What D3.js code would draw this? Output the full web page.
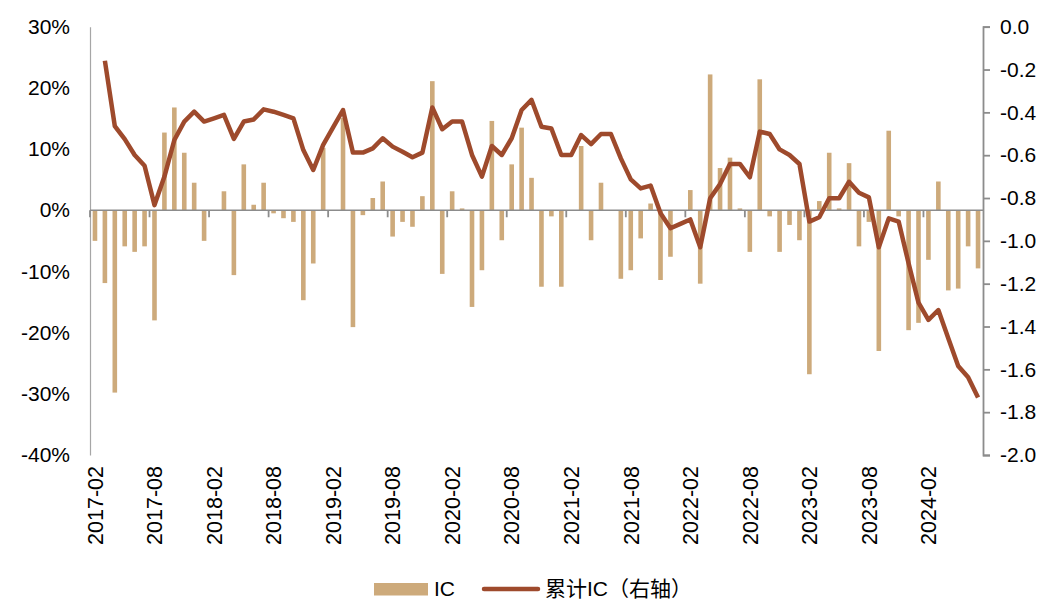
<!DOCTYPE html>
<html>
<head>
<meta charset="utf-8">
<script src="https://cdn.jsdelivr.net/npm/d3@7"></script>
<style>
  html, body { margin: 0; padding: 0; background: #fff; }
  svg { display: block; }
  text { font-family: "Liberation Sans", Arial, "Noto Sans CJK SC", sans-serif; fill: #000; }
</style>
</head>
<body>
<svg id="chart" width="1063" height="615"></svg>
<script>
const categories = [
  "2017-02","2017-03","2017-04","2017-05","2017-06","2017-07","2017-08","2017-09","2017-10","2017-11","2017-12",
  "2018-01","2018-02","2018-03","2018-04","2018-05","2018-06","2018-07","2018-08","2018-09","2018-10","2018-11","2018-12",
  "2019-01","2019-02","2019-03","2019-04","2019-05","2019-06","2019-07","2019-08","2019-09","2019-10","2019-11","2019-12",
  "2020-01","2020-02","2020-03","2020-04","2020-05","2020-06","2020-07","2020-08","2020-09","2020-10","2020-11","2020-12",
  "2021-01","2021-02","2021-03","2021-04","2021-05","2021-06","2021-07","2021-08","2021-09","2021-10","2021-11","2021-12",
  "2022-01","2022-02","2022-03","2022-04","2022-05","2022-06","2022-07","2022-08","2022-09","2022-10","2022-11","2022-12",
  "2023-01","2023-02","2023-03","2023-04","2023-05","2023-06","2023-07","2023-08","2023-09","2023-10","2023-11","2023-12",
  "2024-01","2024-02","2024-03","2024-04","2024-05","2024-06","2024-07"
];

// Monthly IC (%)
const icValues = [
  -5.0, -11.9, -29.8, -5.9, -6.8, -5.9, -18.0, 12.7, 16.8, 9.4, 4.5,
  -5.0, 0.0, 3.1, -10.6, 7.5, 0.9, 4.5, -0.5, -1.3, -1.9, -14.7, -8.7,
  10.2, 0.0, 15.1, -19.1, -0.8, 2.0, 4.7, -4.3, -1.9, -2.7, 2.3, 21.1,
  -10.4, 3.1, 0.3, -15.8, -9.8, 14.6, -4.9, 7.5, 13.5, 5.3, -12.5, -1.0,
  -12.5, 0.0, 10.5, -4.9, 4.5, 0.0, -11.2, -9.8, -4.6, 1.1, -11.4, -7.6,
  0.0, 3.3, -12.0, 22.2, 6.9, 8.6, 0.3, -6.8, 21.4, -1.0, -6.8, -2.4,
  -4.9, -26.8, 1.5, 9.4, 0.3, 7.7, -5.9, -1.9, -23.0, 13.0, -1.0, -19.6,
  -18.4, -8.1, 4.7, -13.1, -12.8, -5.9, -9.5
];

// Cumulative IC (right axis)
const cumValues = [
  null, -0.159, -0.464, -0.525, -0.599, -0.649, -0.833, -0.700, -0.529, -0.443, -0.397,
  -0.443, -0.428, -0.412, -0.524, -0.443, -0.433, -0.386, -0.397, -0.412, -0.428, -0.576, -0.669,
  -0.552, -0.470, -0.389, -0.588, -0.588, -0.568, -0.521, -0.560, -0.584, -0.610, -0.588, -0.377,
  -0.479, -0.443, -0.443, -0.599, -0.700, -0.557, -0.599, -0.521, -0.389, -0.342, -0.467, -0.475,
  -0.599, -0.599, -0.506, -0.548, -0.501, -0.501, -0.615, -0.713, -0.755, -0.742, -0.871, -0.941,
  -0.921, -0.900, -1.030, -0.801, -0.735, -0.641, -0.641, -0.703, -0.490, -0.501, -0.573, -0.599,
  -0.641, -0.910, -0.890, -0.801, -0.801, -0.724, -0.775, -0.797, -1.030, -0.895, -0.910, -1.105,
  -1.289, -1.369, -1.323, -1.455, -1.584, -1.637, -1.732
];

const xTickLabels = ["2017-02","2017-08","2018-02","2018-08","2019-02","2019-08","2020-02","2020-08",
  "2021-02","2021-08","2022-02","2022-08","2023-02","2023-08","2024-02"];
const leftTicks = [0.30, 0.20, 0.10, 0.00, -0.10, -0.20, -0.30, -0.40];
const rightTicks = [0.0, -0.2, -0.4, -0.6, -0.8, -1.0, -1.2, -1.4, -1.6, -1.8, -2.0];
const seriesNames = ["IC", "累计IC（右轴）"];

const barColor = "#CDAA7B";
const lineColor = "#9E4A2C";
const axisGray = "#8C8C8C";

const plotL = 90, plotR = 983, plotT = 26.7, plotB = 455;
const svg = d3.select("#chart");

const x = d3.scaleBand().domain(categories).range([plotL, plotR]).paddingInner(0).paddingOuter(0);
const yL = d3.scaleLinear().domain([-0.40, 0.30]).range([plotB, plotT]);
const yR = d3.scaleLinear().domain([-2.0, 0.0]).range([plotB, plotT]);

// Bars
const barW = 4.6;
svg.append("g").selectAll("rect").data(icValues).join("rect")
  .attr("x", (d, i) => x(categories[i]) + x.bandwidth() / 2 - barW / 2)
  .attr("y", d => yL(Math.max(0, d / 100)))
  .attr("width", barW)
  .attr("height", d => Math.abs(yL(d / 100) - yL(0)))
  .attr("fill", barColor);

// Left axis
const gL = svg.append("g").attr("transform", `translate(${plotL},0)`)
  .call(d3.axisLeft(yL).tickValues(leftTicks).tickSize(0).tickPadding(20)
    .tickFormat(d => (Math.round(d * 100)) + "%"));
gL.select(".domain").attr("stroke", "#A6A6A6").attr("stroke-width", 1.2);
gL.selectAll("text").attr("font-size", 21).attr("fill", "#000")
  .style("font-family", '"Liberation Sans", Arial, sans-serif');

// Right axis
const gR = svg.append("g").attr("transform", `translate(${plotR},0)`)
  .call(d3.axisRight(yR).tickValues(rightTicks).tickSize(7).tickSizeOuter(7).tickPadding(10)
    .tickFormat(d => (d < 0 ? "-" : "") + Math.abs(d).toFixed(1)));
gR.select(".domain").attr("stroke", axisGray).attr("stroke-width", 1.8);
gR.selectAll(".tick line").attr("stroke", axisGray).attr("stroke-width", 1.8);
gR.selectAll("text").attr("font-size", 21).attr("fill", "#000")
  .style("font-family", '"Liberation Sans", Arial, sans-serif');

// Zero line with ticks every 6 months
const y0 = yL(0);
svg.append("line").attr("x1", plotL).attr("x2", plotR).attr("y1", y0).attr("y2", y0)
  .attr("stroke", axisGray).attr("stroke-width", 1.4);
const tickIdx = categories.map((c, i) => i).filter(i => i % 6 === 0);
svg.append("g").selectAll("line").data(tickIdx).join("line")
  .attr("x1", i => x(categories[i])).attr("x2", i => x(categories[i]))
  .attr("y1", y0).attr("y2", y0 + 7)
  .attr("stroke", axisGray).attr("stroke-width", 1.8);

// X labels (rotated)
svg.append("g").selectAll("text").data(xTickLabels).join("text")
  .attr("transform", d => `translate(${x(d) + x.bandwidth() / 2},466) rotate(-90)`)
  .attr("text-anchor", "end")
  .attr("dy", "0.36em")
  .attr("font-size", 21.5)
  .text(d => d);

// Cumulative line
const line = d3.line()
  .defined(d => d != null)
  .x((d, i) => x(categories[i]) + x.bandwidth() / 2)
  .y(d => yR(d));
svg.append("path").datum(cumValues)
  .attr("d", line)
  .attr("fill", "none")
  .attr("stroke", lineColor)
  .attr("stroke-width", 4.5)
  .attr("stroke-linejoin", "round")
  .attr("stroke-linecap", "butt");

// Legend
const lg = svg.append("g");
lg.append("rect").attr("x", 374).attr("y", 583).attr("width", 54).attr("height", 12.5).attr("fill", barColor);
lg.append("text").attr("x", 434).attr("y", 596).attr("font-size", 21).text(seriesNames[0]);
lg.append("line").attr("x1", 484).attr("x2", 538).attr("y1", 589).attr("y2", 589)
  .attr("stroke", lineColor).attr("stroke-width", 4.5).attr("stroke-linecap", "round");
lg.append("text").attr("x", 545).attr("y", 596).attr("font-size", 21).text(seriesNames[1]);
</script>
</body>
</html>
